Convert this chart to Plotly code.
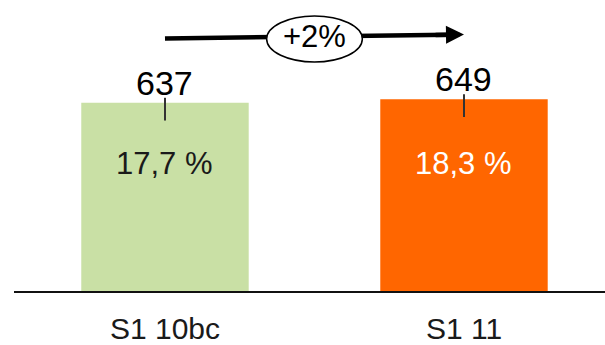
import plotly.graph_objects as go

# Two periods compared: total value and share
categories = ["S1 10bc", "S1 11"]
values = [637, 649]
shares = ["17,7 %", "18,3 %"]
bar_colors = ["#C9E0A5", "#FF6600"]
share_colors = ["#1A1A1A", "#FFFFFF"]

growth = round((values[1] / values[0] - 1) * 100)
growth_label = f"{growth:+d}%"

FONT = "Liberation Sans, Arial, sans-serif"
x_pos = list(range(len(categories)))

fig = go.Figure()
fig.add_trace(go.Bar(
    x=x_pos,
    y=values,
    width=0.56,
    marker=dict(color=bar_colors, line=dict(width=0)),
    error_y=dict(type="data", symmetric=False, array=[17] * len(values),
                 arrayminus=[60] * len(values), thickness=2, width=0,
                 color="#333333"),
    hoverinfo="skip",
))

annotations = []
# value labels above each bar
for x, v in zip(x_pos, values):
    annotations.append(dict(x=x, y=v, xref="x", yref="y", text=str(v),
                            showarrow=False, yanchor="middle", yshift=20,
                            font=dict(family=FONT, size=34, color="#000000")))
# share labels inside the bars
for x, s, c in zip(x_pos, shares, share_colors):
    annotations.append(dict(x=x, y=0.438, xref="x", yref="paper", text=s,
                            showarrow=False, yanchor="middle",
                            font=dict(family=FONT, size=31, color=c)))

# growth arrow: line from first bar to second, head drawn by annotation
y_tail, y_head = 855, 868
annotations.append(dict(x=x_pos[1], y=y_head, xref="x", yref="y",
                        ax=x_pos[1] - 0.1, ay=y_head - 0.1 * (y_head - y_tail),
                        axref="x", ayref="y", text="", showarrow=True,
                        arrowhead=2, arrowsize=0.8, arrowwidth=4.5,
                        arrowcolor="#000000"))
annotations.append(dict(x=0.5, y=(y_tail + y_head) / 2, xref="x", yref="y",
                        text=growth_label, showarrow=False, yanchor="middle",
                        font=dict(family=FONT, size=31, color="#000000")))

shapes = [
    dict(type="line", xref="x", yref="y", x0=x_pos[0], y0=y_tail,
         x1=x_pos[1] - 0.05, y1=y_head - 0.05 * (y_head - y_tail),
         line=dict(color="#000000", width=4.5), layer="above"),
    dict(type="circle", xref="x", yref="paper", x0=0.34, x1=0.66,
         y0=0.787, y1=0.945, fillcolor="#FFFFFF",
         line=dict(color="#000000", width=1.5), layer="above"),
]

fig.update_layout(
    width=605, height=345,
    margin=dict(l=14, r=0, t=0, b=54, autoexpand=False),
    paper_bgcolor="#FFFFFF", plot_bgcolor="#FFFFFF",
    showlegend=False,
    annotations=annotations,
    shapes=shapes,
    xaxis=dict(range=[-0.505, 1.4716], tickvals=x_pos, ticktext=categories,
               showgrid=False, zeroline=False, showline=True, linewidth=2,
               linecolor="#111111", ticks="", ticklabelstandoff=10,
               tickfont=dict(family=FONT, size=30, color="#1A1A1A"),
               automargin=False, fixedrange=True),
    yaxis=dict(range=[0, 985], visible=False, showgrid=False, zeroline=False,
               automargin=False, fixedrange=True),
)

fig.write_html("out.html")
